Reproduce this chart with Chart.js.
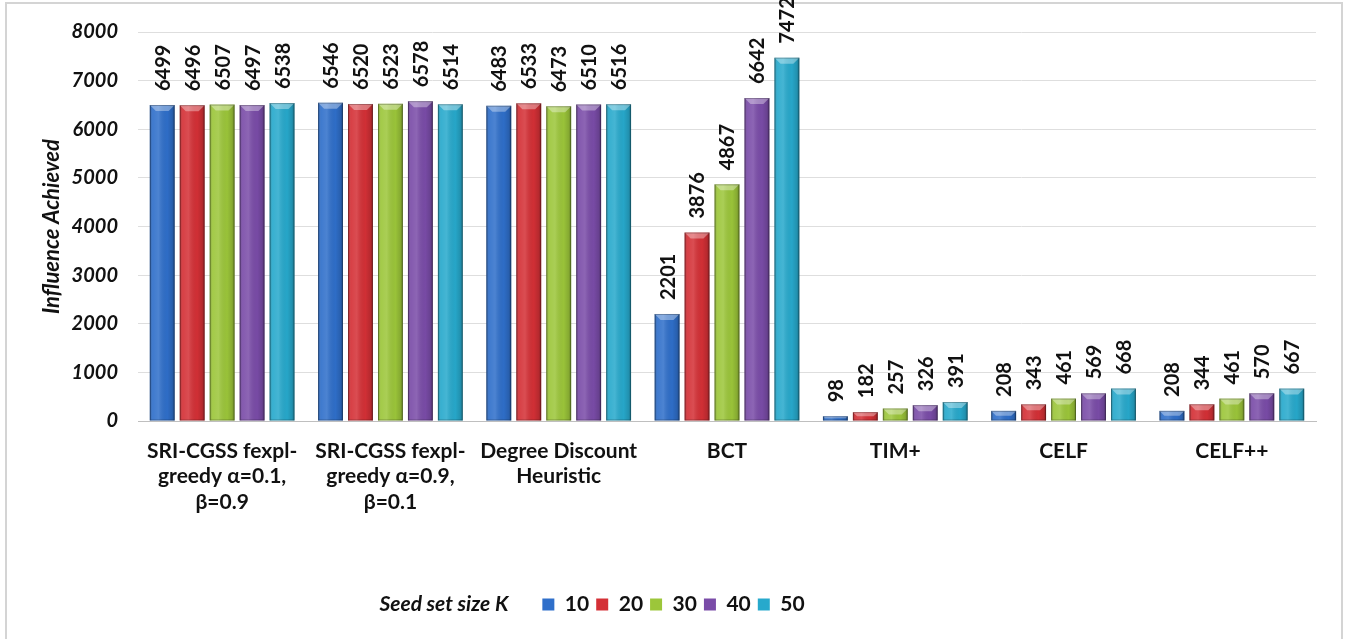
<!DOCTYPE html>
<html>
<head>
<meta charset="utf-8">
<script src="https://cdn.jsdelivr.net/npm/chart.js@4/dist/chart.umd.min.js"></script>
<style>
  html, body { margin: 0; padding: 0; background: #ffffff; }
  #wrap { width: 1348px; height: 639px; position: relative; }
</style>
</head>
<body>
<div id="wrap"><canvas id="c" width="1348" height="639"></canvas></div>
<script>
// Algorithms compared (x-axis categories)
const categories = [
  ["SRI-CGSS fexpl-", "greedy \u03b1=0.1,", "\u03b2=0.9"],
  ["SRI-CGSS fexpl-", "greedy \u03b1=0.9,", "\u03b2=0.1"],
  ["Degree Discount", "Heuristic"],
  "BCT",
  "TIM+",
  "CELF",
  "CELF++"
];

// Seed set sizes (one series each)
const seedSizes = ["10", "20", "30", "40", "50"];

// Influence achieved per algorithm, per seed set size
const k10 = [6499, 6546, 6483, 2201, 98, 208, 208];
const k20 = [6496, 6520, 6533, 3876, 182, 343, 344];
const k30 = [6507, 6523, 6473, 4867, 257, 461, 461];
const k40 = [6497, 6578, 6510, 6642, 326, 569, 570];
const k50 = [6538, 6514, 6516, 7472, 391, 668, 667];

// Y-axis range and step
const yMin = 0;
const yMax = 8000;
const yStep = 1000;

const seriesValues = [k10, k20, k30, k40, k50];
const seriesColors = ["#2f6fca", "#d43036", "#9cc63a", "#7a4ca8", "#27a9cc"];

const FONT = "Lato";

// Bevelled look on each bar: side shading plus a light facet at the top
const bevelPlugin = {
  id: "bevel",
  afterDatasetsDraw(chart) {
    const ctx = chart.ctx;
    chart.data.datasets.forEach((ds, di) => {
      const meta = chart.getDatasetMeta(di);
      meta.data.forEach((bar) => {
        const w = bar.width;
        const left = bar.x - w / 2;
        const right = bar.x + w / 2;
        const top = bar.y;
        const bottom = bar.base;
        const h = bottom - top;
        ctx.save();
        const g = ctx.createLinearGradient(left, 0, right, 0);
        g.addColorStop(0, "rgba(0,0,0,0.28)");
        g.addColorStop(0.12, "rgba(255,255,255,0.08)");
        g.addColorStop(0.35, "rgba(255,255,255,0.14)");
        g.addColorStop(0.7, "rgba(0,0,0,0.02)");
        g.addColorStop(0.9, "rgba(0,0,0,0.14)");
        g.addColorStop(1, "rgba(0,0,0,0.35)");
        ctx.fillStyle = g;
        ctx.fillRect(left, top, w, h);
        // top facet
        const f = Math.min(6, h / 2);
        ctx.beginPath();
        ctx.moveTo(left, top);
        ctx.lineTo(right, top);
        ctx.lineTo(right - f, top + f);
        ctx.lineTo(left + f, top + f);
        ctx.closePath();
        ctx.fillStyle = "rgba(255,255,255,0.35)";
        ctx.fill();
        ctx.strokeStyle = "rgba(0,0,0,0.25)";
        ctx.lineWidth = 1;
        ctx.strokeRect(left + 0.5, top + 0.5, w - 1, h - 1);
        ctx.restore();
      });
    });
  }
};

// Vertical value labels above each bar
const valueLabelPlugin = {
  id: "valueLabels",
  afterDatasetsDraw(chart) {
    const ctx = chart.ctx;
    ctx.save();
    ctx.font = "bold 20px " + FONT;
    ctx.fillStyle = "#111111";
    ctx.textAlign = "left";
    ctx.textBaseline = "middle";
    chart.data.datasets.forEach((ds, di) => {
      const meta = chart.getDatasetMeta(di);
      meta.data.forEach((bar, i) => {
        ctx.save();
        ctx.translate(bar.x + 1, bar.y - 14);
        ctx.rotate(-Math.PI / 2);
        ctx.fillText(String(ds.data[i]), 0, 0);
        ctx.restore();
      });
    });
    ctx.restore();
  }
};

// Outer frame and the legend's caption
const framePlugin = {
  id: "frame",
  beforeDraw(chart) {
    const ctx = chart.ctx;
    ctx.save();
    ctx.fillStyle = "#ffffff";
    ctx.fillRect(0, 0, chart.width, chart.height);
    ctx.strokeStyle = "#d4d4d4";
    ctx.lineWidth = 2;
    ctx.strokeRect(6, 3, chart.width - 12, chart.height + 10);
    ctx.restore();
  },
  afterDraw(chart) {
    const lg = chart.legend;
    if (!lg || !lg.legendHitBoxes || !lg.legendHitBoxes.length) return;
    const hb = lg.legendHitBoxes[0];
    const ctx = chart.ctx;
    ctx.save();
    ctx.font = "italic bold 21px " + FONT;
    ctx.fillStyle = "#111111";
    ctx.textAlign = "right";
    ctx.textBaseline = "middle";
    ctx.fillText("Seed set size K", hb.left - 34, hb.top + hb.height / 2);
    ctx.restore();
  }
};

const datasets = seedSizes.map((label, i) => ({
  label: label,
  data: seriesValues[i],
  backgroundColor: seriesColors[i],
  borderWidth: 0,
  barPercentage: 0.83,
  categoryPercentage: 0.89
}));

new Chart(document.getElementById("c"), {
  type: "bar",
  data: { labels: categories, datasets: datasets },
  options: {
    responsive: false,
    animation: false,
    layout: { padding: { top: 23, right: 32, bottom: 14, left: 31 } },
    plugins: {
      legend: {
        position: "bottom",
        labels: {
          boxWidth: 12,
          boxHeight: 12,
          padding: 7,
          color: "#111111",
          font: { family: FONT, size: 21, weight: "bold" }
        }
      },
      tooltip: { enabled: false }
    },
    scales: {
      x: {
        grid: { display: false, drawTicks: false },
        border: { display: true, color: "#bfbfbf", width: 1 },
        ticks: {
          color: "#111111",
          padding: 17,
          maxRotation: 0,
          autoSkip: false,
          font: { family: FONT, size: 21, weight: "bold", lineHeight: 1.22 }
        },
        afterFit(scale) { scale.height = 166; }
      },
      y: {
        min: yMin,
        max: yMax,
        grid: { color: "#dedede", lineWidth: 1, drawTicks: false },
        border: { display: false },
        ticks: {
          stepSize: yStep,
          color: "#111111",
          padding: 20,
          callback: (v) => String(v),
          font: { family: FONT, size: 20, weight: "bold", style: "italic" }
        },
        title: {
          display: true,
          text: "Influence Achieved",
          color: "#111111",
          padding: { top: 8, bottom: 0 },
          font: { family: FONT, size: 22, weight: "bold", style: "italic" }
        },
        afterFit(scale) { scale.width = 107; }
      }
    }
  },
  plugins: [framePlugin, bevelPlugin, valueLabelPlugin]
});
</script>
</body>
</html>
